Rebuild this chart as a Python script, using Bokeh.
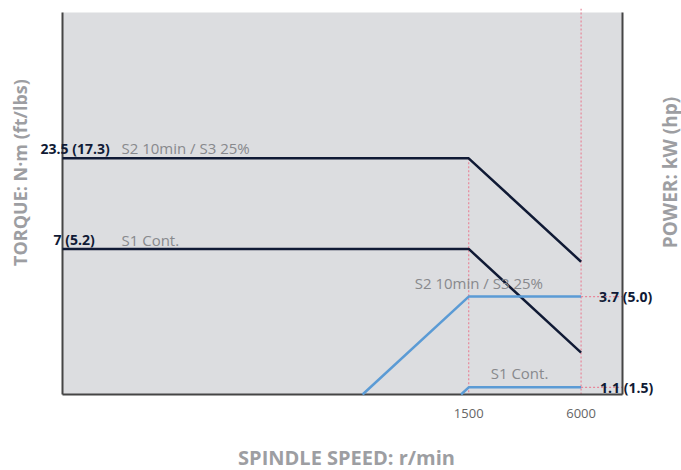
from math import pi, log10
from bokeh.plotting import figure
from bokeh.models import Range1d, Label
from bokeh.embed import file_html
from bokeh.resources import INLINE

# ---- data ----
speed_torque = [10, 1500, 6000]
torque_s2 = [23.5, 23.5, 5.9]
torque_s1 = [7.0, 7.0, 1.75]
speed_power_s2 = [405, 1500, 6000]
power_s2 = [1.0, 3.7, 3.7]
speed_power_s1 = [1365, 1500, 6000]
power_s1 = [1.0, 1.1, 1.1]
speed_ticks = [1500, 6000]
speed_tick_labels = ["1500", "6000"]
torque_labels = ["23.5 (17.3)", "7 (5.2)"]
power_labels = ["3.7 (5.0)", "1.1 (1.5)"]
curve_names = ["S2 10min / S3 25%", "S1 Cont."]

# plotting area (data extent) and its pixel layout inside the canvas
X_MIN, X_MAX = 10, 10000
Y_MIN, Y_MAX = 1, 165
W, H = 681, 470
PL, PR, PT, PB = 62, 59, 12, 76          # margins around the plotting area
ppd_x = (W - PL - PR) / (log10(X_MAX) - log10(X_MIN))
ppd_y = (H - PT - PB) / (log10(Y_MAX) - log10(Y_MIN))
x_start = X_MIN / 10 ** (PL / ppd_x)
x_end = X_MAX * 10 ** (PR / ppd_x)
y_start = Y_MIN / 10 ** (PB / ppd_y)
y_end = Y_MAX * 10 ** (PT / ppd_y)

FONT = "Open Sans"
NAVY = "#101a35"
BLUE = "#5b9bd5"
GRAY = "#88898d"
TITLE_GRAY = "#9d9ea2"
PINK = "#e8879a"
AXIS = "#454545"

p = figure(width=W, height=H, x_axis_type="log", y_axis_type="log",
           x_range=Range1d(x_start, x_end), y_range=Range1d(y_start, y_end),
           output_backend="svg", toolbar_location=None,
           x_axis_location=None, y_axis_location=None,
           min_border=0)
p.background_fill_color = "white"
p.border_fill_color = "white"
p.outline_line_color = None
p.grid.visible = False

# plotting area background
p.quad(left=[X_MIN], right=[X_MAX], bottom=[Y_MIN], top=[Y_MAX],
       fill_color="#dcdde0", line_color=None)

# dotted reference lines
p.segment(x0=[speed_torque[1], speed_torque[2], speed_torque[2], speed_torque[2]],
          y0=[torque_s2[1], Y_MIN, power_s2[2], power_s1[2]],
          x1=[speed_torque[1], speed_torque[2], X_MAX, X_MAX],
          y1=[Y_MIN, Y_MAX * 1.05, power_s2[2], power_s1[2]],
          line_color=PINK, line_width=1.2, line_dash="2 2")

# axis lines (left, right, bottom)
p.segment(x0=[X_MIN, X_MAX, X_MIN], y0=[Y_MIN, Y_MIN, Y_MIN],
          x1=[X_MIN, X_MAX, X_MAX], y1=[Y_MAX, Y_MAX, Y_MIN],
          line_color=AXIS, line_width=2)

# curves
p.line(speed_torque, torque_s2, line_color=NAVY, line_width=2.5)
p.line(speed_torque, torque_s1, line_color=NAVY, line_width=2.5)
p.line(speed_power_s2, power_s2, line_color=BLUE, line_width=2.5)
p.line(speed_power_s1, power_s1, line_color=BLUE, line_width=2.5)

def lab(text, x, y, dx, dy, color, bold=False, size="15px", align="left", angle=0):
    p.add_layout(Label(x=x, y=y, x_offset=dx, y_offset=dy, text=text,
                       text_font=FONT, text_font_size=size,
                       text_font_style="bold" if bold else "normal",
                       text_color=color, text_align=align,
                       text_baseline="middle", angle=angle))

# tick labels
for t, l in zip(speed_ticks, speed_tick_labels):
    lab(l, t, Y_MIN, 0, -19, "#666666", size="13px", align="center")

# torque annotations
lab(torque_labels[0], X_MIN, torque_s2[0], -22, 10, NAVY, bold=True, size="14px")
lab(curve_names[0], X_MIN, torque_s2[0], 59, 10, GRAY)
lab(torque_labels[1], X_MIN, torque_s1[0], -9, 9, NAVY, bold=True, size="14px")
lab(curve_names[1], X_MIN, torque_s1[0], 59, 9, GRAY)
# power annotations
lab(curve_names[0], speed_power_s2[1], power_s2[1], -54, 14, GRAY)
lab(power_labels[0], speed_power_s2[2], power_s2[2], 18, 0, NAVY, bold=True, size="14px")
lab(curve_names[1], speed_power_s1[1], power_s1[1], 22, 14, GRAY)
lab(power_labels[1], speed_power_s1[2], power_s1[2], 19, 0, NAVY, bold=True, size="14px")

# axis titles
lab("SPINDLE SPEED: r/min", (X_MIN * X_MAX) ** 0.5, Y_MIN, 4, -63, TITLE_GRAY,
    bold=True, size="20px", align="center")
lab("TORQUE: N·m (ft/lbs)", X_MIN, Y_MIN, -43, 222, TITLE_GRAY,
    bold=True, size="18px", align="center", angle=pi / 2)
lab("POWER: kW (hp)", X_MAX, Y_MIN, 47, 222, TITLE_GRAY,
    bold=True, size="19px", align="center", angle=pi / 2)

open("out.html", "w").write(file_html(p, INLINE))
